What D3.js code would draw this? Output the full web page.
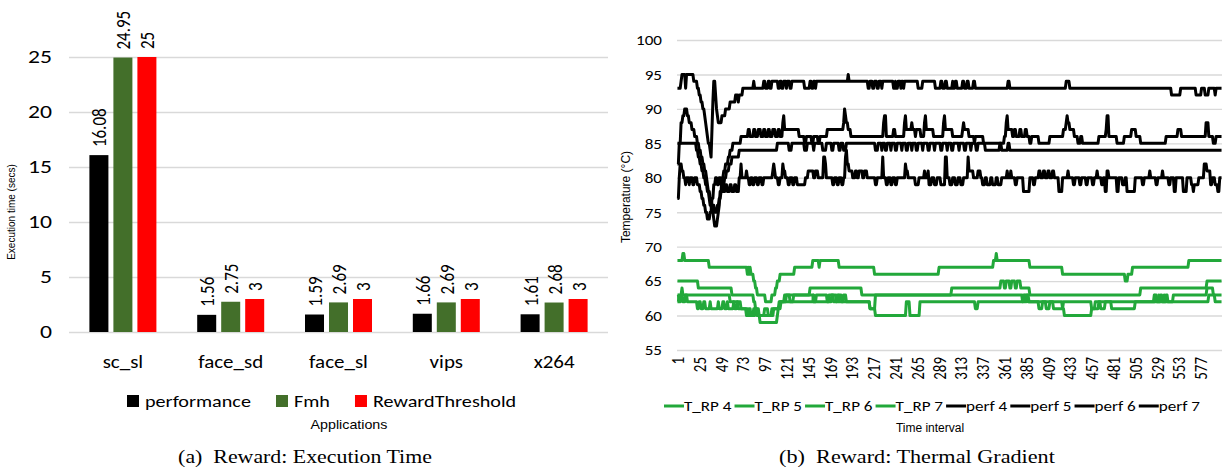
<!DOCTYPE html>
<html><head><meta charset="utf-8">
<script src="https://cdn.jsdelivr.net/npm/d3@7"></script>
<style>body{margin:0;background:#fff}svg{display:block}</style>
</head><body>
<svg id="c" width="1225" height="470"></svg>
<script>
// ---------- Left chart data ----------
const apps = ["sc_sl", "face_sd", "face_sl", "vips", "x264"];
const barSeries = ["performance", "Fmh", "RewardThreshold"];
const performance = [16.08, 1.56, 1.59, 1.66, 1.61];
const fmh = [24.95, 2.75, 2.69, 2.69, 2.68];
const rewardThreshold = [25, 3, 3, 3, 3];
const barTicks = [0, 5, 10, 15, 20, 25];
const barColors = ["#000000", "#436f2a", "#ff0000"];

// ---------- Right chart data (runs: [index where value starts, temperature]) ----------
const nIntervals = 600;
const tempTicks = [55, 60, 65, 70, 75, 80, 85, 90, 95, 100];
const timeTicks = [1, 25, 49, 73, 97, 121, 145, 169, 193, 217, 241, 265, 289, 313, 337, 361, 385, 409, 433, 457, 481, 505, 529, 553, 577];
const lineNames = ["T_RP 4", "T_RP 5", "T_RP 6", "T_RP 7", "perf 4", "perf 5", "perf 6", "perf 7"];

const tRP4 = [[0,68],[6,69],[8,68],[35,67],[77,66],[78,67],[79,66],[80,67],[81,66],[84,65],[86,64],[88,63],[97,62],[104,63],[108,64],[110,65],[113,66],[129,67],[149,68],[156,67],[157,68],[178,67],[217,66],[288,67],[348,68],[351,69],[352,68],[388,67],[424,66],[493,65],[496,66],[501,67],[563,68]];
const tRP5 = [[0,65],[23,64],[60,63],[84,62],[86,61],[88,60],[91,59],[110,60],[111,61],[113,62],[118,63],[146,64],[203,63],[302,64],[356,65],[360,64],[362,65],[366,64],[368,65],[372,64],[374,65],[378,64],[388,63],[510,64],[583,65]];
const tRP6 = [[0,62],[2,63],[5,64],[6,63],[58,62],[70,61],[78,60],[84,61],[90,60],[104,61],[112,62],[120,63],[124,62],[128,63],[150,62],[153,63],[165,62],[167,63],[175,62],[178,63],[181,62],[183,63],[186,62],[212,61],[218,63],[380,62],[383,63],[386,62],[424,61],[426,60],[456,61],[464,62],[466,61],[471,62],[478,61],[504,62],[526,63],[528,62],[532,63],[534,62],[538,63],[540,62],[546,63],[583,64],[590,63]];
const tRP7 = [[0,63],[2,62],[4,63],[6,62],[9,63],[11,62],[22,61],[24,62],[26,61],[29,62],[31,61],[36,62],[37,61],[45,62],[46,61],[50,62],[52,61],[55,62],[56,61],[62,62],[63,61],[66,62],[67,61],[76,60],[79,61],[81,60],[86,61],[88,60],[96,61],[100,60],[106,61],[114,62],[150,63],[151,62],[170,63],[172,62],[176,63],[178,62],[212,61],[218,60],[252,62],[256,60],[267,62],[328,61],[331,62],[381,63],[383,62],[385,63],[387,62],[398,61],[402,62],[406,61],[410,62],[414,61],[425,62],[456,61],[460,62],[525,63],[526,62],[530,63],[531,62],[536,63],[537,62],[585,63],[592,62]];
const perf4 = [[0,93],[4,94],[5,95],[9,93],[10,95],[18,94],[22,93],[24,92],[26,91],[28,90],[30,89],[31,88],[32,87],[33,86],[34,85],[36,84],[37,83],[38,87],[39,91],[40,94],[42,92],[43,90],[44,89],[45,88],[49,89],[53,90],[58,91],[64,92],[67,91],[68,92],[72,93],[84,94],[85,93],[95,94],[97,93],[100,94],[102,93],[104,94],[111,93],[113,94],[115,93],[117,94],[120,93],[121,94],[124,93],[126,94],[140,93],[146,94],[148,93],[150,94],[152,93],[153,94],[188,95],[189,94],[210,93],[212,94],[215,93],[217,94],[220,93],[222,94],[225,93],[226,94],[238,93],[240,94],[241,93],[243,94],[246,93],[247,94],[249,93],[250,94],[265,93],[270,94],[284,93],[290,94],[292,93],[295,94],[297,93],[303,94],[304,93],[306,94],[308,93],[314,94],[316,93],[319,94],[321,93],[326,94],[328,93],[364,94],[366,93],[428,94],[432,93],[544,92],[554,93],[571,92],[577,93],[581,92],[585,93],[592,92],[593,93]];
const perf5 = [[0,82],[2,85],[4,88],[6,89],[8,90],[11,89],[13,88],[16,87],[19,86],[22,85],[24,84],[26,83],[28,82],[30,81],[32,80],[33,79],[34,78],[35,77],[36,76],[38,75],[40,74],[41,73],[44,74],[45,75],[46,76],[47,78],[49,80],[51,81],[53,82],[56,83],[58,84],[61,85],[70,86],[78,87],[80,86],[84,87],[86,86],[89,87],[92,86],[95,87],[97,86],[100,87],[102,86],[105,87],[108,86],[111,87],[113,86],[116,88],[117,89],[118,87],[134,86],[140,85],[142,86],[148,85],[150,86],[155,85],[157,86],[165,87],[183,88],[184,90],[185,89],[186,88],[188,87],[191,86],[227,88],[228,89],[230,86],[238,87],[240,86],[250,88],[251,89],[252,87],[258,88],[259,87],[262,86],[263,87],[268,86],[272,88],[273,89],[274,87],[282,86],[293,88],[294,89],[295,87],[303,86],[314,87],[315,88],[316,87],[321,86],[327,85],[328,86],[337,85],[360,86],[362,88],[363,89],[364,87],[369,86],[371,87],[373,86],[377,87],[379,86],[383,87],[385,86],[388,85],[390,86],[398,85],[410,86],[425,87],[428,88],[429,89],[430,88],[432,87],[437,86],[441,85],[444,86],[446,85],[464,86],[472,87],[473,89],[475,86],[484,85],[492,86],[500,87],[505,86],[510,85],[538,86],[551,87],[555,86],[582,88],[585,86],[590,85],[593,86]];
const perf6 = [[0,85],[21,84],[23,83],[25,82],[27,81],[29,80],[31,79],[33,78],[36,77],[38,76],[41,75],[44,76],[46,77],[48,78],[50,79],[52,80],[54,81],[57,82],[60,83],[68,84],[110,85],[123,84],[126,85],[140,84],[143,85],[150,84],[151,85],[160,84],[164,85],[170,84],[172,85],[178,84],[180,85],[183,84],[186,85],[218,84],[221,85],[225,84],[226,85],[229,84],[231,85],[235,84],[236,85],[240,84],[242,85],[247,84],[248,85],[252,84],[254,85],[258,84],[259,85],[263,84],[265,85],[270,84],[271,85],[276,84],[278,85],[283,84],[284,85],[290,84],[292,85],[297,84],[298,85],[302,84],[304,85],[310,84],[311,85],[316,84],[318,85],[323,84],[324,85],[329,84],[331,85],[339,84],[355,85],[357,84],[364,85],[366,84]];
const perf7 = [[0,77],[2,80],[3,82],[5,81],[7,80],[9,79],[10,80],[13,79],[14,80],[17,79],[19,80],[22,79],[25,78],[27,77],[29,76],[31,75],[33,74],[36,75],[38,77],[40,79],[42,80],[44,79],[46,80],[48,79],[50,78],[53,79],[55,78],[58,79],[60,78],[63,79],[65,78],[68,80],[70,82],[71,80],[76,81],[77,80],[79,79],[81,80],[83,79],[85,80],[88,79],[90,80],[93,79],[95,80],[105,81],[106,82],[107,81],[108,80],[111,79],[113,80],[116,82],[117,81],[119,80],[122,79],[124,80],[127,79],[129,80],[132,79],[141,80],[144,81],[150,80],[152,81],[155,80],[161,83],[163,82],[164,80],[171,79],[173,80],[176,79],[178,80],[181,79],[183,80],[185,83],[186,84],[187,82],[189,81],[193,80],[196,81],[198,80],[200,81],[204,80],[206,81],[209,80],[218,79],[220,80],[226,83],[227,80],[230,79],[232,80],[235,79],[237,80],[240,79],[242,80],[251,82],[252,81],[254,80],[262,79],[266,80],[272,81],[273,80],[276,81],[277,79],[280,80],[283,79],[286,80],[290,79],[295,83],[297,80],[300,79],[303,80],[306,79],[309,80],[312,79],[315,80],[320,83],[321,81],[326,80],[331,81],[334,80],[336,79],[339,80],[341,79],[345,80],[347,79],[351,80],[353,79],[357,80],[363,81],[364,80],[367,81],[368,80],[372,79],[374,80],[381,78],[388,80],[392,79],[394,80],[398,81],[400,80],[403,81],[405,80],[408,81],[410,80],[413,81],[415,80],[420,78],[424,80],[430,81],[431,80],[436,79],[438,80],[443,79],[445,80],[450,79],[452,80],[457,79],[459,80],[462,81],[463,80],[467,79],[469,80],[471,78],[473,81],[475,80],[484,78],[486,80],[490,79],[493,80],[495,78],[504,80],[512,79],[514,80],[520,81],[521,80],[527,79],[529,80],[534,81],[535,80],[541,79],[543,80],[547,78],[549,80],[557,78],[561,80],[566,79],[568,78],[569,79],[574,80],[580,82],[583,81],[587,79],[589,80],[592,79],[595,78],[597,80]];

const greenRuns = [tRP4, tRP5, tRP6, tRP7];
const blackRuns = [perf4, perf5, perf6, perf7];

// decode runs into one value per time interval
function decode(runs) {
  const out = [];
  runs.forEach((r, k) => {
    const end = k + 1 < runs.length ? runs[k + 1][0] : nIntervals;
    for (let i = r[0]; i < end; i++) out.push(r[1]);
  });
  return out;
}

const svg = d3.select("#c");
const CAL = "Carlito, Lato, 'Open Sans', sans-serif";
const ARIAL = "'Liberation Sans', Arial, sans-serif";
const SERIF = "'Liberation Serif', 'DejaVu Serif', serif";
const GRID = "#d9d9d9";

// horizontal stretch of text so that a sample text gets a target width
function widthOf(node) { return node.getComputedTextLength(); }
function stretchX(sel, sx) {
  sel.each(function () {
    const t = d3.select(this);
    const x = +t.attr("x") || 0;
    const tr = t.attr("transform") || "";
    t.attr("x", x / sx).attr("transform", tr + ` scale(${sx},1)`);
  });
}
function fitText(sel, target) {
  const w = widthOf(sel.node());
  stretchX(sel, target / w);
}

// ================= LEFT CHART =================
const x0 = d3.scaleBand().domain(apps).range([69, 608]);
const x1 = d3.scaleBand().domain(barSeries).range([-33.5, 33.5]).paddingInner(0.208);
const yB = d3.scaleLinear().domain([0, 25]).range([332, 57]);

const gyL = svg.append("g").attr("transform", "translate(69,0)")
  .call(d3.axisLeft(yB).tickValues(barTicks).tickSize(-539).tickPadding(17));
gyL.select(".domain").remove();
gyL.selectAll(".tick line").attr("stroke", GRID).attr("stroke-width", 1.6);
const tyL = gyL.selectAll(".tick text").attr("font-family", CAL).attr("font-size", 18).attr("fill", "#000");
{
  const sample = tyL.filter(d => d === 25).node();
  stretchX(tyL, 24 / widthOf(sample));
}

const gxL = svg.append("g").attr("transform", "translate(0,332)")
  .call(d3.axisBottom(x0).tickSize(0).tickPadding(23));
gxL.select(".domain").remove();
const txL = gxL.selectAll(".tick text").attr("font-family", CAL).attr("font-size", 18).attr("fill", "#000");
{
  const sample = txL.filter(d => d === "face_sd").node();
  stretchX(txL, 65 / widthOf(sample));
}

const rows = apps.map((a, i) => ({app: a, vals: [performance[i], fmh[i], rewardThreshold[i]]}));
const grp = svg.append("g").selectAll("g").data(rows).join("g")
  .attr("transform", d => `translate(${x0(d.app) + x0.bandwidth() / 2},0)`);
grp.selectAll("rect").data(d => d.vals.map((v, k) => ({s: barSeries[k], v, k})))
  .join("rect")
  .attr("x", d => x1(d.s)).attr("width", x1.bandwidth())
  .attr("y", d => yB(d.v)).attr("height", d => yB(0) - yB(d.v))
  .attr("fill", d => barColors[d.k]);
grp.selectAll("text").data(d => d.vals.map((v, k) => ({s: barSeries[k], v, k})))
  .join("text")
  .attr("transform", d => `translate(${x1(d.s) + x1.bandwidth() / 2},${yB(d.v) - 8}) rotate(-90) scale(1,1.22)`)
  .attr("dy", "0.36em")
  .attr("font-family", CAL).attr("font-size", 17).attr("fill", "#000")
  .text(d => d.v);

svg.append("text").attr("transform", "translate(15,212) rotate(-90)")
  .attr("text-anchor", "middle").attr("font-family", ARIAL).attr("font-size", 10)
  .text("Execution time (secs)");

// legend left
const legL = svg.append("g");
{
  const texts = barSeries.map(s => legL.append("text").attr("font-family", CAL).attr("font-size", 17).attr("y", 407).text(s));
  const sx = 106 / widthOf(texts[0].node());
  let lx = 127;
  barSeries.forEach((s, k) => {
    legL.append("rect").attr("x", lx).attr("y", 395).attr("width", 12).attr("height", 12).attr("fill", barColors[k]);
    texts[k].attr("x", lx + 18);
    const w = widthOf(texts[k].node()) * sx;
    stretchX(texts[k], sx);
    lx += 18 + w + 25;
  });
}
fitText(svg.append("text").attr("x", 349).attr("y", 429).attr("text-anchor", "middle")
  .attr("font-family", ARIAL).attr("font-size", 12).text("Applications"), 77);
fitText(svg.append("text").attr("x", 305).attr("y", 463).attr("text-anchor", "middle")
  .attr("font-family", SERIF).attr("font-size", 18).attr("xml:space", "preserve")
  .text("(a)  Reward: Execution Time"), 254);

// ================= RIGHT CHART =================
const xT = d3.scaleBand().domain(d3.range(1, nIntervals + 1)).range([677, 1222]);
const yT = d3.scaleLinear().domain([55, 100]).range([350, 40]);

const gyR = svg.append("g").attr("transform", "translate(677,0)")
  .call(d3.axisLeft(yT).tickValues(tempTicks).tickSize(-545).tickPadding(15));
gyR.select(".domain").remove();
gyR.selectAll(".tick line").attr("stroke", GRID).attr("stroke-width", 1.4);
const tyR = gyR.selectAll(".tick text").attr("font-family", CAL).attr("font-size", 15).attr("fill", "#000");
{
  const sample = tyR.filter(d => d === 100).node();
  stretchX(tyR, 26 / widthOf(sample));
}

const gxR = svg.append("g").attr("transform", "translate(0,350)")
  .call(d3.axisBottom(xT).tickValues(timeTicks).tickSize(0));
gxR.select(".domain").remove();
gxR.selectAll(".tick text")
  .attr("transform", "rotate(-90) scale(1,1.2)").attr("x", -7).attr("y", 0).attr("dy", "0.36em")
  .attr("text-anchor", "end")
  .attr("font-family", CAL).attr("font-size", 15).attr("fill", "#000");

const line = d3.line()
  .x((d, i) => xT(i + 1) + xT.bandwidth() / 2)
  .y(d => yT(d));

const GREEN = "#22a83a";
svg.append("g").selectAll("path").data(greenRuns.map(decode)).join("path")
  .attr("d", line).attr("fill", "none").attr("stroke", GREEN)
  .attr("stroke-width", 3).attr("stroke-linejoin", "round");
svg.append("g").selectAll("path").data(blackRuns.map(decode)).join("path")
  .attr("d", line).attr("fill", "none").attr("stroke", "#000")
  .attr("stroke-width", 3).attr("stroke-linejoin", "round");

svg.append("text").attr("transform", "translate(630,197) rotate(-90)")
  .attr("text-anchor", "middle").attr("font-family", ARIAL).attr("font-size", 12)
  .text("Temperature (°C)");

// legend right
const legR = svg.append("g");
{
  const texts = lineNames.map(nm => legR.append("text").attr("font-family", CAL).attr("font-size", 15).attr("y", 411).text(nm));
  const total = d3.sum(texts, t => widthOf(t.node()));
  const sx = (1203 - 664 - lineNames.length * 23) / total;
  let rx = 664;
  lineNames.forEach((nm, k) => {
    legR.append("line").attr("x1", rx).attr("x2", rx + 20).attr("y1", 406).attr("y2", 406)
      .attr("stroke", k < 4 ? GREEN : "#000").attr("stroke-width", 3);
    texts[k].attr("x", rx + 20);
    const w = widthOf(texts[k].node()) * sx;
    stretchX(texts[k], sx);
    rx += 20 + w + 3;
  });
}
svg.append("text").attr("x", 930).attr("y", 432).attr("text-anchor", "middle")
  .attr("font-family", ARIAL).attr("font-size", 12).text("Time interval");
fitText(svg.append("text").attr("x", 917).attr("y", 463).attr("text-anchor", "middle")
  .attr("font-family", SERIF).attr("font-size", 18).attr("xml:space", "preserve")
  .text("(b)  Reward: Thermal Gradient"), 276);
</script>
</body></html>
